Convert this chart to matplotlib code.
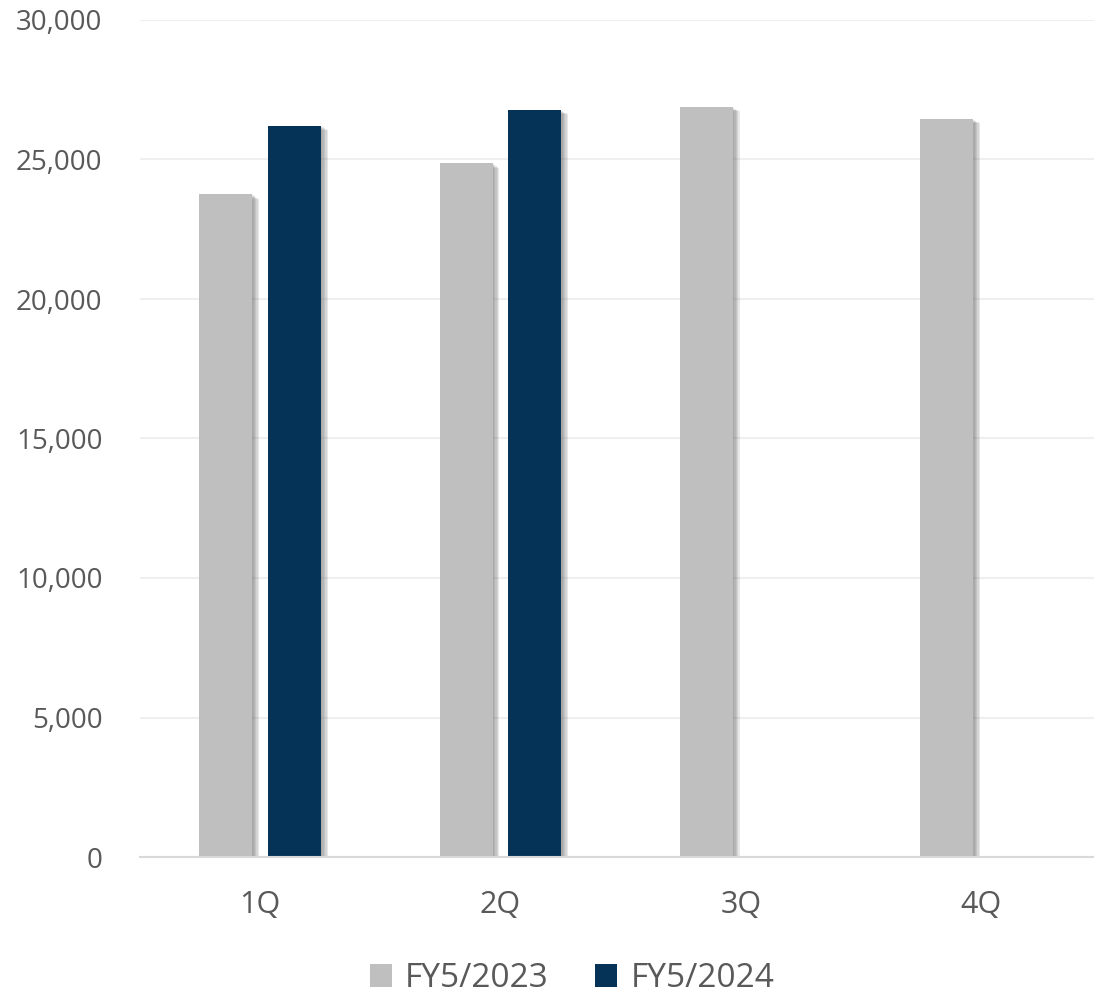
import matplotlib.pyplot as plt
import matplotlib.patheffects as pe
import numpy as np

# data
quarters = ["1Q", "2Q", "3Q", "4Q"]
fy2023 = [23750, 24860, 26880, 26450]
fy2024 = [26210, 26770, np.nan, np.nan]
series_names = ["FY5/2023", "FY5/2024"]
yticks = [0, 5000, 10000, 15000, 20000, 25000, 30000]

plt.rcParams['font.family'] = ['Open Sans', 'DejaVu Sans']
text_color = "#595959"

fig = plt.figure(figsize=(10.94, 10.05), dpi=100)
ax = fig.add_axes([140 / 1094, 148 / 1005, 954 / 1094, 837 / 1005])

x = np.arange(len(quarters))
width = 0.22
offset = 0.143

# soft drop shadow built from a few stacked offsets
shadow = [pe.SimplePatchShadow(offset=(d, -d * 0.6), shadow_rgbFace="#606060", alpha=0.14)
          for d in (1, 2, 3, 4, 5)]
shadow.append(pe.Normal())

b1 = ax.bar(x - offset, fy2023, width, color="#bfbfbf", label=series_names[0], zorder=3)
b2 = ax.bar(x + offset, fy2024, width, color="#053358", label=series_names[1], zorder=3)
for bar in list(b1) + list(b2):
    bar.set_path_effects(shadow)

ax.set_xlim(-0.5, 3.47)
ax.set_ylim(0, 30000)
ax.set_yticks(yticks)
ax.set_yticklabels([f"{v:,}" for v in yticks])
ax.set_xticks(x)
ax.set_xticklabels(quarters)

ax.grid(axis="y", color="#efefef", linewidth=1.5, zorder=0)
ax.set_axisbelow(True)
for side in ["top", "right", "left"]:
    ax.spines[side].set_visible(False)
ax.spines["bottom"].set_color("#d9d9d9")
ax.spines["bottom"].set_linewidth(1.5)
ax.spines["bottom"].set_zorder(4)

ax.tick_params(axis="both", length=0, colors=text_color)
ax.tick_params(axis="y", pad=27, labelsize=20)
ax.tick_params(axis="x", pad=24, labelsize=22)

leg = fig.legend(loc="lower center", bbox_to_anchor=(0.523, -0.02), ncol=2,
                 frameon=False, fontsize=24, handlelength=0.65, handleheight=0.65,
                 handletextpad=0.4, columnspacing=1.4)
for t in leg.get_texts():
    t.set_color(text_color)
for h in leg.legend_handles:
    h.set_path_effects([])

fig.savefig("out.png", dpi=100)
